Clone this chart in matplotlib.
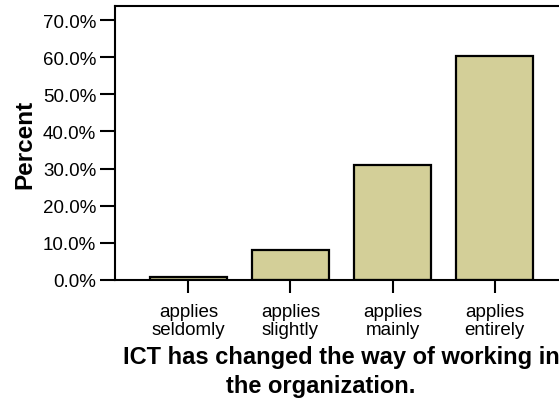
import numpy as np
import matplotlib.pyplot as plt
from matplotlib.ticker import FuncFormatter

plt.rcParams['font.family'] = ['Liberation Sans', 'DejaVu Sans']

categories = ["applies\nseldomly", "applies\nslightly", "applies\nmainly", "applies\nentirely"]
percent = [0.9, 8.2, 31.0, 60.2]
yticks = [0, 10, 20, 30, 40, 50, 60, 70]

W, H = 559, 402
fig = plt.figure(figsize=(W / 100, H / 100), dpi=100)
# axes box runs past the right edge of the picture, like the original crop
ax = fig.add_axes([115 / W, 1 - 281 / H, 453 / W, 274 / H])

x = np.arange(len(categories))
ax.bar(x, percent, width=0.755, color="#d3cf98", edgecolor="black", linewidth=1.6)

ax.set_xlim(-0.72, 3.72)
ax.set_ylim(0, 73.8)
ax.set_yticks(yticks)
ax.yaxis.set_major_formatter(FuncFormatter(lambda v, p: f"{v:.1f}%"))
ax.set_xticks(x)
ax.set_xticklabels(categories, fontsize=13.5, linespacing=1.12)
ax.tick_params(axis="y", length=10.5, width=1.5, labelsize=13.5, pad=3)
ax.tick_params(axis="x", length=9.5, width=1.5, pad=7)

for side in ["left", "bottom", "top", "right"]:
    ax.spines[side].set_linewidth(1.5)

ax.set_ylabel("Percent", fontsize=17.5, fontweight="bold", labelpad=5)
ax.set_xlabel("ICT has changed the way of working in",
              fontsize=17, fontweight="bold", labelpad=5)
fig.text(321 / W, 1 - 393 / H, "the organization.", fontsize=17,
         fontweight="bold", ha="center", va="baseline")

fig.savefig("out.png", dpi=100)
